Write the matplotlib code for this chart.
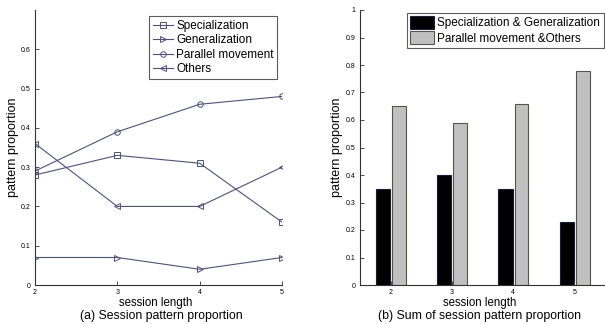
import matplotlib
matplotlib.use("Agg")
import matplotlib.pyplot as plt
import numpy as np

# session lengths
sessions = [2, 3, 4, 5]

# (a) session pattern proportion
specialization = [0.28, 0.33, 0.31, 0.16]
generalization = [0.07, 0.07, 0.04, 0.07]
parallel = [0.29, 0.39, 0.46, 0.48]
others = [0.36, 0.20, 0.20, 0.30]

# (b) sums
spec_gen = [0.35, 0.40, 0.35, 0.23]
par_oth = [0.65, 0.59, 0.66, 0.78]

plt.rcParams['font.family'] = ['Liberation Sans', 'DejaVu Sans']

fig = plt.figure(figsize=(6.05, 3.24), dpi=100)
ax1 = fig.add_axes([35/605, 39/324, 247/605, 275/324])
ax2 = fig.add_axes([360/605, 39/324, 245/605, 275/324])

lc = '#4b5085'
ax1.plot(sessions, specialization, color=lc, lw=0.8, marker='s', ms=4, mfc='none', mew=0.7, label='Specialization')
ax1.plot(sessions, generalization, color=lc, lw=0.8, marker='>', ms=4, mfc='none', mew=0.7, label='Generalization')
ax1.plot(sessions, parallel, color=lc, lw=0.8, marker='o', ms=4, mfc='none', mew=0.7, label='Parallel movement')
ax1.plot(sessions, others, color=lc, lw=0.8, marker='<', ms=4, mfc='none', mew=0.7, label='Others')
ax1.set_xlim(2, 5)
ax1.set_ylim(0, 0.7)
ax1.set_xticks(sessions)
ax1.set_yticks([0, 0.1, 0.2, 0.3, 0.4, 0.5, 0.6])
ax1.set_yticklabels(['0', '0.1', '0.2', '0.3', '0.4', '0.5', '0.6'])
leg1 = ax1.legend(loc='upper right', bbox_to_anchor=(0.99, 0.985), fontsize=8.5, frameon=True,
                  fancybox=False, edgecolor='#333333', handlelength=1.7, handletextpad=0.3,
                  labelspacing=0.2, borderpad=0.3, borderaxespad=0.2)
leg1.get_frame().set_linewidth(0.8)
ax1.set_xlabel('session length', fontsize=8.3)
ax1.set_ylabel('pattern proportion', fontsize=9)
ax1.xaxis.set_label_coords(0.49, -0.045)
ax1.yaxis.set_label_coords(-0.065, 0.5)

x = np.array(sessions)
ax2.bar(x - 0.125, spec_gen, width=0.235, color='black', edgecolor='#1a1a40', lw=0.8, label='Specialization & Generalization')
ax2.bar(x + 0.135, par_oth, width=0.225, color='#c0c0c0', edgecolor='#555548', lw=0.8, label='Parallel movement &Others')
ax2.set_xlim(1.5, 5.5)
ax2.set_ylim(0, 1)
ax2.set_xticks(sessions)
ax2.set_yticks(np.arange(0, 1.01, 0.1))
ax2.set_yticklabels(['0', '0.1', '0.2', '0.3', '0.4', '0.5', '0.6', '0.7', '0.8', '0.9', '1'])
leg2 = ax2.legend(loc='upper right', bbox_to_anchor=(1.0, 0.995), fontsize=8.5, frameon=True,
                  fancybox=False, edgecolor='#333333', handlelength=2.0, handleheight=1.3,
                  handletextpad=0.3, labelspacing=0.15, borderpad=0.3, borderaxespad=0.1)
leg2.get_frame().set_linewidth(0.8)
ax2.set_xlabel('session length', fontsize=8.3)
ax2.set_ylabel('pattern proportion', fontsize=9)
ax2.xaxis.set_label_coords(0.49, -0.045)
ax2.yaxis.set_label_coords(-0.07, 0.5)

for ax in (ax1, ax2):
    ax.spines['top'].set_visible(False)
    ax.spines['right'].set_visible(False)
    ax.spines['left'].set_color('#333333')
    ax.spines['bottom'].set_color('#333333')
    ax.tick_params(direction='in', length=3, width=0.6, labelsize=5, color='#333333', pad=3)

fig.text(161/605, 1 - 316/324, '(a) Session pattern proportion', ha='center', va='center', fontsize=8.8)
fig.text(480/605, 1 - 316/324, '(b) Sum of session pattern proportion', ha='center', va='center', fontsize=8.8)

fig.savefig('out.png', dpi=100)
